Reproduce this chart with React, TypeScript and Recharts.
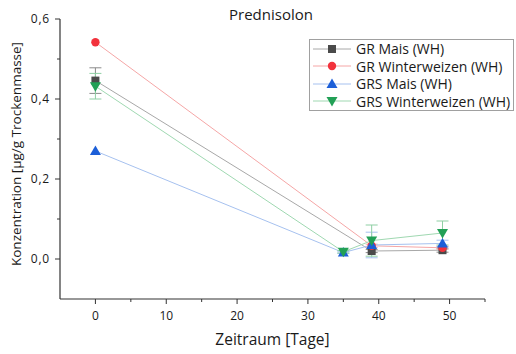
import React from 'react';
import { LineChart, Line, XAxis, YAxis, ErrorBar } from 'recharts';

// Probenahmetage
const grDays = [0, 39, 49];
const grsDays = [0, 35, 39, 49];

// Konzentration [µg/g Trockenmasse]
const grMais = [0.446, 0.02, 0.022];
const grMaisErr = [0.032, 0.004, 0.005];
const grWinterweizen = [0.542, 0.033, 0.028];
const grWinterweizenErr = [0, 0.004, 0.004];
const grsMais = [0.27, 0.016, 0.035, 0.039];
const grsMaisErr = [0, 0.002, 0.032, 0.008];
const grsWinterweizen = [0.432, 0.018, 0.046, 0.065];
const grsWinterweizenErr = [0.032, 0.003, 0.039, 0.03];

const xTicks = [0, 5, 10, 15, 20, 25, 30, 35, 40, 45, 50, 55];
const yTicks = [0, 0.1, 0.2, 0.3, 0.4, 0.5, 0.6];

const FONT = '"Open Sans", "Noto Sans", sans-serif';
const TEXT = '#1a1a1a';
const TICK = 5;
const GAP = 5;

type Shape = 'square' | 'circle' | 'up' | 'down';

const series = [
  { name: 'GR Mais (WH)', days: grDays, values: grMais, errs: grMaisErr, color: '#4a4a4a', line: '#a8a8a8', err: '#8a8a8a', shape: 'square' as Shape },
  { name: 'GR Winterweizen (WH)', days: grDays, values: grWinterweizen, errs: grWinterweizenErr, color: '#f2323c', line: '#f5a6a6', err: '#f5a6a6', shape: 'circle' as Shape },
  { name: 'GRS Mais (WH)', days: grsDays, values: grsMais, errs: grsMaisErr, color: '#1c5fd8', line: '#a6c1ef', err: '#a6c1ef', shape: 'up' as Shape },
  { name: 'GRS Winterweizen (WH)', days: grsDays, values: grsWinterweizen, errs: grsWinterweizenErr, color: '#22a056', line: '#9fd8b1', err: '#8fcfa4', shape: 'down' as Shape },
];

function Marker({ cx, cy, shape, color }: { cx: number; cy: number; shape: Shape; color: string }) {
  if (shape === 'square') return <rect x={cx - 4} y={cy - 4} width={8} height={8} fill={color} />;
  if (shape === 'circle') return <circle cx={cx} cy={cy} r={4.2} fill={color} />;
  if (shape === 'up') return <polygon points={`${cx},${cy - 5.5} ${cx - 5.5},${cy + 4} ${cx + 5.5},${cy + 4}`} fill={color} />;
  return <polygon points={`${cx},${cy + 5.5} ${cx - 5.5},${cy - 4} ${cx + 5.5},${cy - 4}`} fill={color} />;
}

function XTick(props: any) {
  const { x, y, payload } = props;
  const major = payload.value % 10 === 0;
  const y0 = y - TICK - GAP;
  return (
    <g>
      <line x1={x} x2={x} y1={y0} y2={y0 + (major ? 5 : 3)} stroke="#333" strokeWidth={1} />
      {major && (
        <text x={x} y={y0 + 21} textAnchor="middle" fontSize={12} fill={TEXT} fontFamily={FONT}>
          {payload.value}
        </text>
      )}
    </g>
  );
}

function YTick(props: any) {
  const { x, y, payload } = props;
  const major = Math.round(payload.value * 10) % 2 === 0;
  const x0 = x + TICK + GAP;
  return (
    <g>
      <line x1={x0} x2={x0 - (major ? 5 : 3)} y1={y} y2={y} stroke="#333" strokeWidth={1} />
      {major && (
        <text x={x0 - 10} y={y + 4} textAnchor="end" fontSize={12} letterSpacing={0.8} fill={TEXT} fontFamily={FONT}>
          {payload.value.toFixed(1).replace('.', ',')}
        </text>
      )}
    </g>
  );
}

export default function App() {
  return (
    <div style={{ position: 'absolute', left: 0, top: 0, width: 516, height: 354, background: '#fff', fontFamily: FONT }}>
      <LineChart width={516} height={354} margin={{ top: 19, right: 31, bottom: 0, left: 0 }}>
        <XAxis
          type="number"
          dataKey="day"
          domain={[-5, 55]}
          ticks={xTicks}
          allowDuplicatedCategory={false}
          height={55}
          tickSize={TICK}
          tickMargin={GAP}
          tickLine={false}
          tick={<XTick />}
          axisLine={{ stroke: '#333', strokeWidth: 1.2 }}
          label={{
            content: ({ viewBox }: any) => (
              <text x={viewBox.x + viewBox.width / 2} y={viewBox.y + 46} textAnchor="middle" fontSize={15.5} fill={TEXT} fontFamily={FONT}>
                Zeitraum [Tage]
              </text>
            ),
          }}
        />
        <YAxis
          type="number"
          domain={[-0.1, 0.6]}
          ticks={yTicks}
          width={60}
          tickSize={TICK}
          tickMargin={GAP}
          tickLine={false}
          tick={<YTick />}
          axisLine={{ stroke: '#333', strokeWidth: 1.2 }}
          label={{
            content: ({ viewBox }: any) => {
              const cx = viewBox.x + 16;
              const cy = viewBox.y + viewBox.height / 2 - 5;
              return (
                <text x={cx} y={cy} transform={`rotate(-90, ${cx}, ${cy})`} textAnchor="middle" dominantBaseline="central" fontSize={13.5} fill={TEXT} fontFamily={FONT}>
                  Konzentration [µg/g Trockenmasse]
                </text>
              );
            },
          }}
        />
        {series.map((s) => (
          <Line
            key={s.name}
            name={s.name}
            data={s.days.map((d, i) => ({ day: d, value: s.values[i], err: s.errs[i] }))}
            dataKey="value"
            type="linear"
            stroke={s.line}
            strokeWidth={1}
            isAnimationActive={false}
            dot={(p: any) => <Marker key={`${s.name}-${p.index}`} cx={p.cx} cy={p.cy} shape={s.shape} color={s.color} />}
            activeDot={false}
          >
            <ErrorBar dataKey="err" direction="y" width={6} stroke={s.err} strokeWidth={1} isAnimationActive={false} />
          </Line>
        ))}
      </LineChart>

      <div style={{ position: 'absolute', left: 211, top: 4, width: 120, textAlign: 'center', fontSize: 15, lineHeight: '20px', color: TEXT }}>
        Prednisolon
      </div>

      <div style={{ position: 'absolute', left: 309, top: 39, width: 203, border: '1px solid #a0a0a0', background: '#fff' }}>
        {series.map((s) => (
          <div key={s.name} style={{ display: 'flex', alignItems: 'center', height: 17.5 }}>
            <svg width={44} height={14} style={{ flex: 'none' }}>
              <line x1={3} x2={41} y1={7} y2={7} stroke={s.line} strokeWidth={1} />
              <Marker cx={22} cy={7} shape={s.shape} color={s.color} />
            </svg>
            <span style={{ fontSize: 14, color: TEXT, marginLeft: 2, whiteSpace: 'nowrap' }}>{s.name}</span>
          </div>
        ))}
      </div>
    </div>
  );
}
